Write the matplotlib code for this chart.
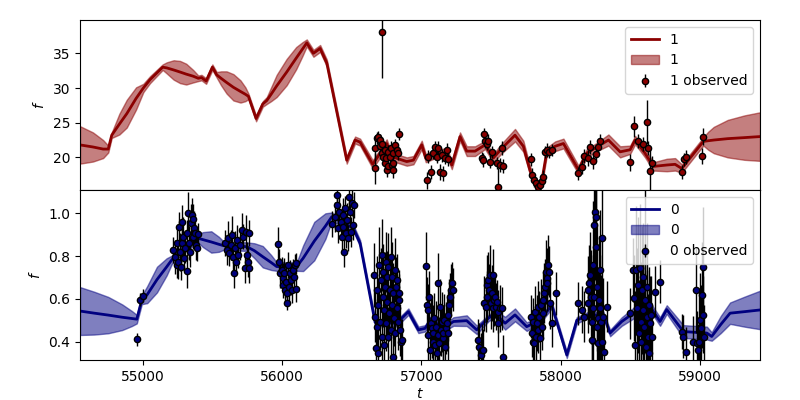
import numpy as np
import matplotlib.pyplot as plt

# model (mean and half width of the band), channel 1
m1_t = [54547, 54640, 54713, 54750, 54775, 54830, 54883, 54950, 55002, 55050, 55141, 55170,
        55220, 55266, 55310, 55360, 55397, 55420, 55453, 55498, 55529, 55560, 55600, 55649,
        55700, 55735, 55757, 55812, 55860, 55889, 55920, 55960, 56032, 56100, 56145, 56176,
        56224, 56272, 56320, 56463, 56523, 56559, 56650, 56750, 56786, 56894, 56942, 57002,
        57031, 57110, 57182, 57218, 57277, 57325, 57385, 57457, 57516, 57577, 57672, 57732,
        57780, 57828, 57864, 57900, 57960, 58020, 58128, 58188, 58260, 58343, 58427, 58499,
        58535, 58606, 58666, 58762, 58822, 58870, 59025, 59060, 59100, 59200, 59320, 59432]
m1_mu = [21.8, 21.5, 21.2, 21.2, 23.2, 24.8, 26.3, 28.5, 30.0, 31.2, 33.0, 32.9,
         32.6, 32.3, 32.0, 31.7, 31.4, 31.5, 31.0, 33.0, 31.9, 31.4, 30.8, 30.1,
         29.5, 29.1, 28.8, 25.6, 27.7, 28.2, 29.1, 30.3, 32.3, 34.3, 35.6, 36.5,
         35.0, 35.7, 33.6, 19.6, 22.5, 22.2, 19.0, 22.0, 20.1, 19.4, 19.6, 21.8,
         19.9, 20.6, 20.7, 18.9, 23.0, 20.9, 20.9, 21.8, 19.9, 21.3, 23.2, 21.6,
         18.1, 15.8, 16.5, 20.8, 21.6, 22.0, 18.2, 20.6, 21.5, 22.5, 20.8, 21.1,
         22.5, 20.6, 18.7, 18.9, 19.0, 18.4, 22.3, 22.4, 22.5, 22.7, 22.85, 23.0]
m1_hw = [2.7, 2.1, 1.3, 0.5, 0.4, 1.5, 2.0, 1.6, 0.6, 0.5, 0.4, 0.8,
         1.4, 1.6, 1.5, 0.9, 0.4, 0.4, 0.4, 0.4, 0.4, 1.0, 1.6, 1.9,
         1.6, 1.0, 0.4, 0.4, 0.4, 0.5, 1.0, 1.6, 1.9, 1.6, 1.0, 0.5,
         0.5, 0.5, 0.5, 0.5, 0.5, 0.5, 0.6, 0.6, 0.6, 0.6, 0.6, 0.6,
         0.6, 0.6, 0.6, 0.6, 0.6, 0.7, 0.7, 0.6, 0.6, 0.7, 0.9, 0.8,
         0.6, 0.6, 0.6, 0.6, 0.7, 0.7, 0.6, 0.6, 0.6, 0.8, 0.8, 0.6,
         0.6, 0.6, 0.6, 0.9, 0.9, 0.6, 0.6, 1.3, 1.9, 2.7, 3.2, 3.5]

# observed, channel 1
o1_t = [56667, 56667, 56679, 56690, 56700, 56703, 56715, 56715, 56715, 56726, 56739, 56739,
        56745, 56750, 56762, 56762, 56774, 56780, 56786, 56798, 56798, 56798, 56810, 56822,
        56834, 56841, 57038, 57050, 57067, 57086, 57098, 57110, 57122, 57134, 57146, 57158,
        57170, 57187, 57194, 57433, 57445, 57450, 57457, 57469, 57481, 57493, 57505, 57541,
        57553, 57565, 57577, 57584, 57785, 57792, 57809, 57823, 57840, 57852, 57864, 57876,
        57888, 57900, 57919, 57936, 58128, 58152, 58171, 58199, 58211, 58231, 58254, 58271,
        58283, 58499, 58527, 58559, 58590, 58619, 58626, 58642, 58659, 58870, 58889, 58901,
        59014, 59025]
o1_f = [18.4, 21.3, 22.8, 23.0, 21.7, 22.5, 38.1, 22.0, 20.6, 20.1, 21.1, 19.2,
        19.9, 18.2, 20.8, 18.7, 20.1, 21.4, 18.9, 20.6, 19.2, 18.2, 21.8, 21.1,
        20.6, 23.4, 16.7, 20.1, 17.9, 20.6, 21.5, 20.1, 21.3, 17.9, 20.3, 17.7,
        19.9, 21.1, 19.7, 19.9, 19.6, 23.4, 22.3, 22.0, 22.3, 19.4, 20.8, 19.2,
        15.8, 18.9, 21.3, 18.7, 19.7, 17.5, 16.7, 16.3, 15.8, 16.0, 16.6, 17.2,
        20.8, 21.1, 20.8, 21.1, 17.7, 18.6, 20.2, 19.9, 21.5, 19.5, 20.5, 21.5,
        22.4, 19.3, 24.5, 22.3, 21.9, 25.1, 21.3, 18.1, 19.2, 17.9, 19.7, 20.0,
        20.2, 23.0]
o1_e = [2.3, 1.2, 0.8, 0.8, 0.9, 0.8, 6.6, 0.9, 0.9, 0.8, 0.9, 1.0,
        0.9, 1.0, 1.0, 0.9, 0.9, 0.9, 1.0, 0.9, 1.0, 1.1, 0.9, 0.9,
        1.0, 0.9, 1.2, 0.9, 1.0, 0.9, 0.9, 0.9, 1.0, 1.1, 0.9, 1.1,
        0.9, 1.0, 0.9, 0.9, 1.0, 0.9, 0.9, 0.9, 1.0, 1.0, 0.9, 0.9,
        2.7, 1.0, 1.0, 1.0, 0.9, 1.0, 0.9, 0.9, 0.9, 0.9, 0.9, 1.0,
        0.9, 1.0, 0.9, 0.9, 0.9, 1.0, 1.0, 1.2, 1.0, 1.2, 1.0, 1.0,
        1.0, 1.2, 1.5, 1.0, 1.0, 3.2, 1.0, 3.0, 1.0, 1.0, 1.0, 1.0,
        1.2, 1.2]

# model, channel 0
m0_t = [54547, 54650, 54750, 54850, 54920, 54955, 54991, 55030, 55100, 55170, 55206, 55300,
        55397, 55430, 55490, 55545, 55577, 55745, 55800, 55860, 55920, 55960, 56104, 56150,
        56230, 56310, 56356, 56511, 56559, 56667, 56823, 56906, 56978, 57026, 57074, 57146,
        57230, 57325, 57397, 57481, 57529, 57601, 57672, 57756, 57852, 57936, 58044, 58116,
        58199, 58307, 58355, 58439, 58523, 58642, 58714, 58762, 58882, 59050, 59085, 59150,
        59217, 59320, 59432]
m0_mu = [0.543, 0.533, 0.524, 0.514, 0.508, 0.505, 0.595, 0.62, 0.69, 0.75, 0.782, 0.84,
         0.883, 0.877, 0.866, 0.855, 0.849, 0.844, 0.825, 0.797, 0.77, 0.751, 0.751, 0.79,
         0.87, 0.94, 0.984, 0.93, 0.86, 0.49, 0.486, 0.54, 0.455, 0.462, 0.51, 0.458,
         0.494, 0.498, 0.455, 0.51, 0.53, 0.486, 0.525, 0.47, 0.50, 0.57, 0.338, 0.50,
         0.525, 0.525, 0.44, 0.494, 0.533, 0.564, 0.494, 0.55, 0.447, 0.44, 0.424, 0.48,
         0.533, 0.54, 0.548]
m0_hw = [0.112, 0.10, 0.085, 0.06, 0.035, 0.02, 0.02, 0.04, 0.06, 0.04, 0.02, 0.02,
         0.02, 0.035, 0.05, 0.035, 0.02, 0.02, 0.035, 0.05, 0.035, 0.02, 0.02, 0.06,
         0.09, 0.06, 0.02, 0.015, 0.015, 0.015, 0.015, 0.015, 0.015, 0.015, 0.015, 0.015,
         0.02, 0.025, 0.02, 0.015, 0.015, 0.03, 0.03, 0.02, 0.015, 0.015, 0.015, 0.015,
         0.015, 0.015, 0.015, 0.02, 0.025, 0.02, 0.02, 0.02, 0.03, 0.03, 0.02, 0.04,
         0.05, 0.07, 0.09]

# observed, channel 0
o0_t = [54959, 54978, 54998,
        55218, 55230, 55242, 55246, 55254, 55261, 55266, 55271, 55278, 55283, 55290, 55295,
        55302, 55314, 55318, 55325, 55333, 55338, 55345, 55350, 55357, 55361, 55366, 55374,
        55381, 55386, 55393,
        55589, 55601, 55613, 55620, 55630, 55637, 55644, 55654, 55661, 55668, 55673, 55685,
        55697, 55709, 55721, 55733, 55740, 55749, 55756, 55761, 55764,
        55972, 55979, 55984, 55996, 56003, 56008, 56015, 56020, 56027, 56032, 56037, 56044,
        56051, 56056, 56063, 56068, 56075, 56085, 56092, 56097, 56099,
        56360, 56379, 56392, 56396, 56403, 56410, 56420, 56428, 56435, 56439, 56446, 56451,
        56458, 56468, 56475, 56482, 56487, 56494, 56499, 56507, 56516,
        56659, 56667, 56672, 56679, 56684, 56690, 56690, 56698, 56703, 56708, 56715, 56719,
        56722, 56726, 56731, 56733, 56739, 56744, 56746, 56750, 56755, 56760, 56762, 56767,
        56774, 56779, 56784, 56786, 56791, 56793, 56798, 56803, 56808, 56810, 56817, 56822,
        56827, 56834, 56839, 56841, 56846, 56851, 56858,
        57033, 57038, 57045, 57050, 57055, 57062, 57067, 57074, 57081, 57086, 57091, 57098,
        57105, 57110, 57117, 57122, 57129, 57134, 57141, 57146, 57153, 57158, 57165, 57170,
        57177, 57182, 57189, 57194, 57201, 57206, 57211, 57218, 57225,
        57409, 57416, 57426, 57433, 57445, 57452, 57464, 57469, 57473, 57481, 57488, 57493,
        57500, 57505, 57512, 57517, 57524, 57529, 57536, 57541, 57548, 57553, 57565, 57577,
        57584,
        57785, 57792, 57799, 57804, 57809, 57816, 57823, 57828, 57835, 57840, 57847, 57852,
        57859, 57864, 57871, 57876, 57883, 57888, 57895, 57900, 57905, 57912, 57919, 57924,
        57936, 57967,
        58128, 58152, 58171, 58193, 58199, 58207, 58211, 58216, 58223, 58228, 58231, 58235,
        58240, 58243, 58247, 58252, 58254, 58259, 58264, 58267, 58271, 58276, 58281, 58283,
        58288, 58295, 58300, 58307, 58314, 58331,
        58499, 58518, 58527, 58534, 58542, 58551, 58559, 58563, 58570, 58575, 58580, 58585,
        58590, 58594, 58599, 58604, 58608, 58614, 58619, 58623, 58628, 58633, 58638, 58642,
        58649, 58654, 58678, 58714,
        58870, 58882, 58901, 58949, 58971, 58978, 58990, 58997, 59001, 59009, 59014, 59021,
        59025, 59030]
o0_f = [0.411, 0.595, 0.614,
        0.829, 0.797, 0.86, 0.758, 0.774, 0.937, 0.82, 0.75, 0.961, 0.86, 0.891, 0.79,
        0.836, 0.73, 0.907, 1.0, 0.86, 0.82, 0.953, 0.992, 0.891, 0.972, 0.93, 0.907,
        0.852, 0.836, 0.903,
        0.86, 0.829, 0.883, 0.813, 0.852, 0.899, 0.797, 0.72, 0.836, 0.774, 0.875, 0.805,
        0.852, 0.922, 0.891, 0.743, 0.914, 0.805, 0.774, 0.907, 0.743,
        0.857, 0.774, 0.72, 0.735, 0.696, 0.665, 0.72, 0.642, 0.68, 0.626, 0.579, 0.758,
        0.657, 0.72, 0.688, 0.642, 0.735, 0.704, 0.758, 0.646, 0.766,
        0.949, 0.984, 1.085, 1.039, 0.93, 1.008, 0.961, 0.891, 0.992, 0.937, 0.82, 1.023,
        0.907, 0.969, 0.883, 1.078, 1.008, 0.914, 1.047, 0.945, 1.039,
        0.712, 0.517, 0.369, 0.47, 0.642, 0.571, 0.346, 0.758, 0.493, 0.688, 0.423, 0.805,
        0.61, 0.727, 0.548, 0.385, 0.657, 0.774, 0.486, 0.587, 0.704, 0.423, 0.75, 0.533,
        0.642, 0.455, 0.797, 0.571, 0.704, 0.33, 0.626, 0.509, 0.735, 0.439, 0.657, 0.556,
        0.688, 0.493, 0.595, 0.626, 0.455, 0.40, 0.408,
        0.754, 0.571, 0.548, 0.431, 0.61, 0.361, 0.486, 0.463, 0.40, 0.439, 0.509, 0.385,
        0.47, 0.346, 0.431, 0.673, 0.393, 0.564, 0.455, 0.493, 0.416, 0.439, 0.501, 0.377,
        0.463, 0.486, 0.525, 0.439, 0.571, 0.61, 0.642, 0.673, 0.642,
        0.408, 0.377, 0.338, 0.361, 0.361, 0.579, 0.564, 0.665, 0.61, 0.688, 0.642, 0.712,
        0.579, 0.626, 0.712, 0.556, 0.595, 0.61, 0.564, 0.587, 0.486, 0.54, 0.556, 0.556,
        0.33,
        0.517, 0.439, 0.40, 0.493, 0.393, 0.54, 0.423, 0.486, 0.564, 0.455, 0.517, 0.416,
        0.571, 0.47, 0.533, 0.595, 0.626, 0.657, 0.727, 0.696, 0.673, 0.758, 0.727, 0.579,
        0.486, 0.626,
        0.579, 0.548, 0.517, 0.579, 0.642, 0.673, 0.712, 0.61, 0.493, 0.408, 0.758, 0.556,
        0.61, 0.945, 1.008, 0.984, 0.844, 0.47, 0.657, 0.393, 0.509, 0.595, 0.556, 0.735,
        0.493, 0.883, 0.40, 0.517, 0.353, 0.564,
        0.533, 0.735, 0.603, 0.385, 0.735, 0.556, 0.665, 0.439, 0.743, 0.493, 0.40, 0.642,
        0.704, 0.548, 0.47, 0.82, 0.595, 0.377, 0.657, 0.517, 0.423, 0.571, 0.346, 0.486,
        0.525, 0.423, 0.634, 0.68,
        0.447, 0.423, 0.35, 0.40, 0.642, 0.393, 0.361, 0.40, 0.501, 0.463, 0.618, 0.525,
        0.75, 0.423]
o0_e = [0.03, 0.03, 0.03,
        0.06, 0.08, 0.07, 0.06, 0.08, 0.07, 0.09, 0.06, 0.08, 0.07, 0.09, 0.06,
        0.07, 0.08, 0.06, 0.10, 0.08, 0.07, 0.09, 0.08, 0.06, 0.07, 0.08, 0.06,
        0.07, 0.06, 0.05,
        0.06, 0.07, 0.08, 0.06, 0.07, 0.09, 0.06, 0.07, 0.08, 0.06, 0.07, 0.06,
        0.07, 0.08, 0.06, 0.07, 0.08, 0.06, 0.07, 0.06, 0.07,
        0.08, 0.06, 0.07, 0.06, 0.07, 0.06, 0.07, 0.06, 0.07, 0.06, 0.03, 0.06,
        0.07, 0.06, 0.07, 0.06, 0.05, 0.06, 0.05, 0.06, 0.05,
        0.06, 0.07, 0.08, 0.06, 0.07, 0.08, 0.06, 0.07, 0.08, 0.06, 0.07, 0.06,
        0.07, 0.08, 0.06, 0.07, 0.06, 0.07, 0.06, 0.07, 0.06,
        0.15, 0.12, 0.14, 0.13, 0.16, 0.12, 0.14, 0.18, 0.13, 0.15, 0.12, 0.17,
        0.14, 0.13, 0.15, 0.12, 0.16, 0.14, 0.13, 0.15, 0.12, 0.14, 0.16, 0.13,
        0.15, 0.12, 0.14, 0.13, 0.16, 0.12, 0.14, 0.13, 0.15, 0.12, 0.14, 0.13,
        0.12, 0.13, 0.12, 0.11, 0.12, 0.10, 0.10,
        0.16, 0.13, 0.12, 0.14, 0.12, 0.13, 0.12, 0.14, 0.12, 0.13, 0.12, 0.14,
        0.12, 0.13, 0.12, 0.14, 0.12, 0.13, 0.12, 0.14, 0.12, 0.13, 0.12, 0.14,
        0.12, 0.13, 0.12, 0.14, 0.12, 0.11, 0.12, 0.10, 0.10,
        0.10, 0.11, 0.10, 0.12, 0.10, 0.13, 0.12, 0.14, 0.12, 0.13, 0.12, 0.14,
        0.12, 0.13, 0.12, 0.11, 0.12, 0.10, 0.11, 0.10, 0.11, 0.10, 0.11, 0.10,
        0.10,
        0.10, 0.11, 0.12, 0.11, 0.10, 0.12, 0.11, 0.13, 0.12, 0.11, 0.12, 0.10,
        0.12, 0.11, 0.12, 0.13, 0.14, 0.13, 0.15, 0.14, 0.13, 0.14, 0.12, 0.12,
        0.11, 0.10,
        0.10, 0.11, 0.12, 0.14, 0.16, 0.18, 0.20, 0.22, 0.25, 0.28, 0.30, 0.25,
        0.22, 0.30, 0.32, 0.30, 0.28, 0.25, 0.30, 0.28, 0.22, 0.30, 0.25, 0.28,
        0.22, 0.30, 0.20, 0.18, 0.15, 0.12,
        0.12, 0.15, 0.20, 0.25, 0.30, 0.28, 0.32, 0.25, 0.30, 0.28, 0.22, 0.30,
        0.25, 0.28, 0.22, 0.30, 0.25, 0.20, 0.30, 0.22, 0.20, 0.18, 0.15, 0.22,
        0.18, 0.15, 0.12, 0.10,
        0.08, 0.10, 0.12, 0.12, 0.20, 0.15, 0.12, 0.25, 0.22, 0.20, 0.25, 0.18,
        0.28, 0.15]


def draw_panel(ax, mt, mu, hw, ot, of, oe, color, name):
    mt, mu, hw = np.array(mt), np.array(mu), np.array(hw)
    ax.plot(mt, mu, color=color, lw=2, label=name)
    ax.fill_between(mt, mu - hw, mu + hw, color=color, alpha=0.5, label=name)
    ax.errorbar(ot, of, yerr=oe, fmt='o', color='k', mfc=color, mec='k',
                ms=4.5, elinewidth=1, label=name + ' observed')
    ax.set_ylabel('$f$')
    ax.legend(loc='upper right')


fig, (ax1, ax0) = plt.subplots(2, 1, sharex=True, figsize=(8, 4), dpi=100)
fig.subplots_adjust(left=0.1, right=0.95, top=0.95, bottom=0.1, hspace=0)

draw_panel(ax1, m1_t, m1_mu, m1_hw, o1_t, o1_f, o1_e, 'darkred', '1')
draw_panel(ax0, m0_t, m0_mu, m0_hw, o0_t, o0_f, o0_e, 'navy', '0')

ax1.set_ylim(15.3, 39.8)
ax0.set_ylim(0.314, 1.109)
ax0.set_xlim(54547, 59432)
ax0.set_xlabel('$t$', labelpad=2)

fig.savefig('out.png')
